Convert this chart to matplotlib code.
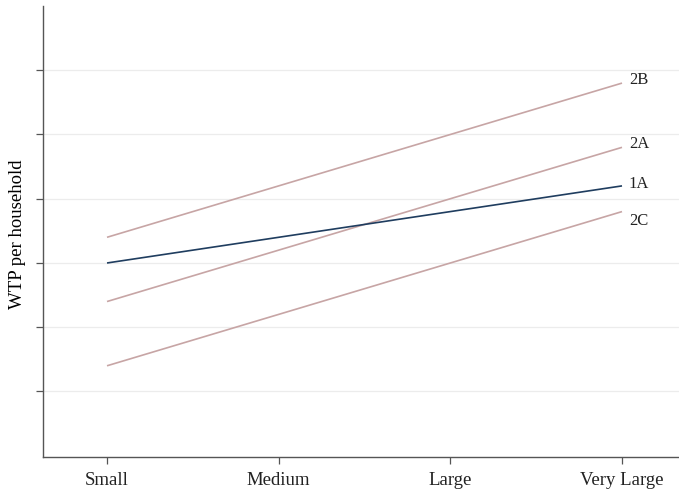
import numpy as np
import matplotlib
matplotlib.use('Agg')
import matplotlib.pyplot as plt

plt.rcParams['font.family'] = ['Liberation Serif', 'DejaVu Serif']

sizes = ['Small', 'Medium', 'Large', 'Very Large']
series_names = ['2B', '2A', '1A', '2C']
wtp_2b = [3.4, 4.2, 5.0, 5.8]
wtp_2a = [2.4, 3.2, 4.0, 4.8]
wtp_1a = [3.0, 3.4, 3.8, 4.2]
wtp_2c = [1.4, 2.2, 3.0, 3.8]
ytick_vals = [1, 2, 3, 4, 5, 6]

pink = '#c7a5a5'
navy = '#1f3d5f'

fig = plt.figure(figsize=(6.79, 4.91), dpi=100)
ax = fig.add_axes([0.0633, 0.0692, 0.9367, 0.9186])

x = np.arange(len(sizes))
series = [wtp_2b, wtp_2a, wtp_1a, wtp_2c]
colors = [pink, pink, navy, pink]
label_dy = [2.3, 2.3, 1.5, -6.5]
for name, vals, c, dy in zip(series_names, series, colors, label_dy):
    ax.plot(x, vals, color=c, lw=1.2, solid_capstyle='butt', zorder=3)
    ax.annotate(name, (x[-1], vals[-1]), xytext=(5, dy), textcoords='offset points',
                ha='left', va='center', fontsize=12, color='#222222')

ax.set_xlim(-0.373, 3.332)
ax.set_ylim(-0.02, 7.0)
ax.set_xticks(x)
ax.set_xticklabels(sizes, fontsize=13.5)
ax.set_yticks(ytick_vals)
ax.set_yticklabels([])
ax.yaxis.grid(True, color='#ececec', lw=0.9)
ax.set_axisbelow(True)
ax.set_ylabel('WTP per household', fontsize=13.5)
ax.yaxis.set_label_coords(-0.026, 0.495)

for s in ['top', 'right']:
    ax.spines[s].set_visible(False)
for s in ['left', 'bottom']:
    ax.spines[s].set_color('#555555')
    ax.spines[s].set_linewidth(1.0)
ax.tick_params(axis='both', length=5, width=0.9, color='#555555', labelcolor='#222222')
ax.tick_params(axis='x', pad=6)

fig.savefig('out.png', dpi=100)
